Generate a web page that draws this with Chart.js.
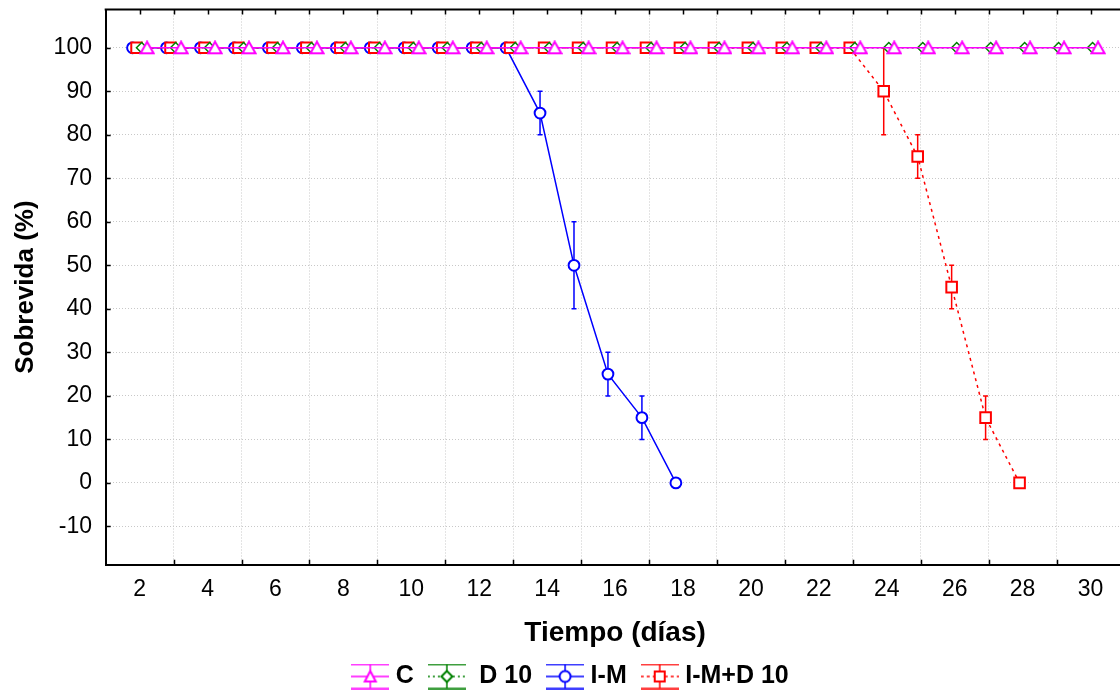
<!DOCTYPE html>
<html>
<head>
<meta charset="utf-8">
<script src="https://cdn.jsdelivr.net/npm/chart.js@4.4.1/dist/chart.umd.min.js"></script>
<style>
  html, body { margin: 0; padding: 0; background: #fff; overflow: hidden; }
  canvas { display: block; }
</style>
</head>
<body>
<canvas id="chart" width="1134" height="699"></canvas>
<script>
// days on the x axis
const days = [2, 3, 4, 5, 6, 7, 8, 9, 10, 11, 12, 13, 14, 15, 16, 17, 18, 19, 20, 21, 22, 23, 24, 25, 26, 27, 28, 29, 30];

// survival (%) per series, starting at day 2
const survC = [100, 100, 100, 100, 100, 100, 100, 100, 100, 100, 100, 100, 100, 100, 100, 100, 100, 100, 100, 100, 100, 100, 100, 100, 100, 100, 100, 100, 100];
const survD10 = [100, 100, 100, 100, 100, 100, 100, 100, 100, 100, 100, 100, 100, 100, 100, 100, 100, 100, 100, 100, 100, 100, 100, 100, 100, 100, 100, 100, 100];
const survIM = [100, 100, 100, 100, 100, 100, 100, 100, 100, 100, 100, 100, 85, 50, 25, 15, 0];
const survIMD10 = [100, 100, 100, 100, 100, 100, 100, 100, 100, 100, 100, 100, 100, 100, 100, 100, 100, 100, 100, 100, 100, 100, 90, 75, 45, 15, 0];

// error bar half-length
const errIM = [0, 0, 0, 0, 0, 0, 0, 0, 0, 0, 0, 0, 5, 10, 5, 5, 0];
const errIMD10 = [0, 0, 0, 0, 0, 0, 0, 0, 0, 0, 0, 0, 0, 0, 0, 0, 0, 0, 0, 0, 0, 0, 10, 5, 5, 5, 0];

// ticks
const xTicks = [1, 2, 3, 4, 5, 6, 7, 8, 9, 10, 11, 12, 13, 14, 15, 16, 17, 18, 19, 20, 21, 22, 23, 24, 25, 26, 27, 28, 29, 30, 31];
const xLabelDays = [2, 4, 6, 8, 10, 12, 14, 16, 18, 20, 22, 24, 26, 28, 30];
const yTicks = [-10, 0, 10, 20, 30, 40, 50, 60, 70, 80, 90, 100];

const FONT = "'Liberation Sans', Arial, sans-serif";
Chart.defaults.color = '#000';
Chart.defaults.font.family = FONT;

const MAGENTA = '#ff00ff', GREEN = '#008000', BLUE = '#0000ff', RED = '#ff0000';
const GRID = '#c8c8c8';

// small sideways shift so the series do not sit exactly on top of each other
const shiftC = 0.22, shiftD10 = 0.06, shiftIM = -0.21, shiftIMD10 = -0.09;

function points(vals, shift) {
  return vals.map((v, i) => ({ x: days[i] + shift, y: v }));
}

// open triangle centred on its box (built-in one is centred on the centroid)
function triangleMarker(color) {
  const c = document.createElement('canvas');
  c.width = 16; c.height = 15;
  const g = c.getContext('2d');
  g.fillStyle = '#fff';
  g.strokeStyle = color;
  g.lineWidth = 2;
  g.beginPath();
  g.moveTo(8, 1.5); g.lineTo(14.5, 13); g.lineTo(1.5, 13); g.closePath();
  g.fill(); g.stroke();
  return c;
}

function makeIcon(color, dash, marker) {
  const c = document.createElement('canvas');
  c.width = 38; c.height = 26;
  const g = c.getContext('2d');
  g.strokeStyle = color;
  g.lineWidth = 1.5;
  g.beginPath();
  g.moveTo(0, 1); g.lineTo(38, 1);
  g.moveTo(0, 25); g.lineTo(38, 25);
  g.moveTo(19, 1); g.lineTo(19, 25);
  g.stroke();
  g.setLineDash(dash);
  g.beginPath(); g.moveTo(0, 13); g.lineTo(38, 13); g.stroke();
  g.setLineDash([]);
  g.fillStyle = '#fff';
  g.lineWidth = 2;
  g.beginPath();
  if (marker === 'triangle') {
    g.moveTo(19, 7.5); g.lineTo(24.5, 18); g.lineTo(13.5, 18); g.closePath();
  } else if (marker === 'diamond') {
    g.moveTo(19, 7.5); g.lineTo(24.5, 13); g.lineTo(19, 18.5); g.lineTo(13.5, 13); g.closePath();
  } else if (marker === 'circle') {
    g.arc(19, 13, 5.5, 0, Math.PI * 2);
  } else {
    g.rect(14, 8, 10, 10);
  }
  g.fill(); g.stroke();
  return c;
}

const legendIcons = [
  makeIcon(MAGENTA, [], 'triangle'),
  makeIcon(GREEN, [2, 3], 'diamond'),
  makeIcon(BLUE, [], 'circle'),
  makeIcon(RED, [3, 3], 'square')
];
const legendTexts = ['C', ' D 10', 'I-M', 'I-M+D 10'];

// frame, inward ticks and error bars
const frameAndErrors = {
  id: 'frameAndErrors',
  beforeDatasetsDraw(chart) {
    const { ctx, chartArea: a, scales: { x, y } } = chart;
    ctx.save();
    ctx.strokeStyle = '#000';
    ctx.lineWidth = 2;
    ctx.beginPath();
    ctx.moveTo(a.left - 1, a.top);
    ctx.lineTo(a.right, a.top);
    ctx.stroke();

    ctx.lineWidth = 1.5;
    ctx.beginPath();
    xTicks.forEach(v => {
      if (v <= 1) return;
      const px = Math.round(x.getPixelForValue(v)) + 0.5;
      ctx.moveTo(px, a.top); ctx.lineTo(px, a.top + 5);
      if (v % 2 === 1 && v < 31) {
        ctx.moveTo(px, a.bottom); ctx.lineTo(px, a.bottom - 5);
      }
    });
    yTicks.forEach(v => {
      const py = Math.round(y.getPixelForValue(v)) + 0.5;
      ctx.moveTo(a.left, py); ctx.lineTo(a.left + 5, py);
    });
    ctx.stroke();

    const bars = [
      { vals: survIM, err: errIM, shift: shiftIM, color: BLUE },
      { vals: survIMD10, err: errIMD10, shift: shiftIMD10, color: RED }
    ];
    ctx.lineWidth = 1.5;
    bars.forEach(b => {
      ctx.strokeStyle = b.color;
      ctx.beginPath();
      b.vals.forEach((v, i) => {
        if (!b.err[i]) return;
        const px = x.getPixelForValue(days[i] + b.shift);
        const top = y.getPixelForValue(v + b.err[i]);
        const bot = y.getPixelForValue(v - b.err[i]);
        ctx.moveTo(px, top); ctx.lineTo(px, bot);
        ctx.moveTo(px - 2.5, top); ctx.lineTo(px + 2.5, top);
        ctx.moveTo(px - 2.5, bot); ctx.lineTo(px + 2.5, bot);
      });
      ctx.stroke();
    });
    ctx.restore();
  }
};

new Chart(document.getElementById('chart'), {
  type: 'line',
  data: {
    datasets: [
      {
        label: 'C', data: points(survC, shiftC), order: 0,
        borderColor: MAGENTA, borderWidth: 1.5,
        pointStyle: triangleMarker(MAGENTA), pointRadius: 7
      },
      {
        label: 'D 10', data: points(survD10, shiftD10), order: 1,
        borderColor: GREEN, borderWidth: 1.5, borderDash: [2, 3],
        pointStyle: 'rectRot', pointRadius: 5.2, pointBorderWidth: 1.5,
        pointBorderColor: GREEN, pointBackgroundColor: '#fff'
      },
      {
        label: 'I-M', data: points(survIM, shiftIM), order: 3,
        borderColor: BLUE, borderWidth: 1.5,
        pointStyle: 'circle', pointRadius: 5.4, pointBorderWidth: 2,
        pointBorderColor: BLUE, pointBackgroundColor: '#fff'
      },
      {
        label: 'I-M+D 10', data: points(survIMD10, shiftIMD10), order: 2,
        borderColor: RED, borderWidth: 1.5, borderDash: [3, 4],
        pointStyle: 'rect', pointRadius: 7.5, pointBorderWidth: 2,
        pointBorderColor: RED, pointBackgroundColor: '#fff'
      }
    ]
  },
  options: {
    responsive: false,
    animation: false,
    events: [],
    layout: { padding: { left: 18, right: 6, top: 9.3, bottom: 0 } },
    scales: {
      x: {
        type: 'linear', min: 1, max: 31,
        afterBuildTicks: s => { s.ticks = xTicks.map(v => ({ value: v })); },
        grid: {
          color: c => (c.tick && c.tick.value % 2 === 1 && c.tick.value > 1 && c.tick.value < 31) ? GRID : 'rgba(0,0,0,0)',
          lineWidth: 1, drawTicks: true, tickLength: 11.5, tickColor: 'rgba(0,0,0,0)'
        },
        border: { display: true, color: '#000', width: 2, dash: [1, 2] },
        ticks: {
          padding: 0, autoSkip: false, maxRotation: 0, minRotation: 0,
          font: { size: 23, family: FONT },
          callback: v => xLabelDays.includes(v) ? String(v) : ''
        },
        title: {
          display: true, text: 'Tiempo (días)',
          font: { size: 28, weight: 'bold', family: FONT, lineHeight: 0.8 },
          padding: { top: 17.8, bottom: 0 }
        }
      },
      y: {
        min: -18.8, max: 108.8,
        afterBuildTicks: s => { s.ticks = yTicks.map(v => ({ value: v })); },
        grid: { color: GRID, lineWidth: 1, drawTicks: true, tickLength: 13.7, tickColor: 'rgba(0,0,0,0)' },
        border: { display: true, color: '#000', width: 2, dash: [1, 2] },
        ticks: { padding: 0, font: { size: 23, family: FONT, lineHeight: 0.4 } },
        title: {
          display: true, text: 'Sobrevida (%)',
          font: { size: 26, weight: 'bold', family: FONT, lineHeight: 0.6 },
          padding: { top: 0.2, bottom: 19.8 }
        }
      }
    },
    plugins: {
      tooltip: { enabled: false },
      legend: {
        position: 'bottom',
        labels: {
          usePointStyle: true, pointStyleWidth: 26, padding: 20,
          font: { size: 25, weight: 'bold', family: FONT },
          generateLabels: chart => chart.data.datasets.map((ds, i) => ({
            text: legendTexts[i],
            pointStyle: legendIcons[i],
            fillStyle: '#fff', strokeStyle: ds.borderColor, lineWidth: 0,
            fontColor: '#000', hidden: false, datasetIndex: i
          }))
        }
      }
    }
  },
  plugins: [frameAndErrors]
});
</script>
</body>
</html>
